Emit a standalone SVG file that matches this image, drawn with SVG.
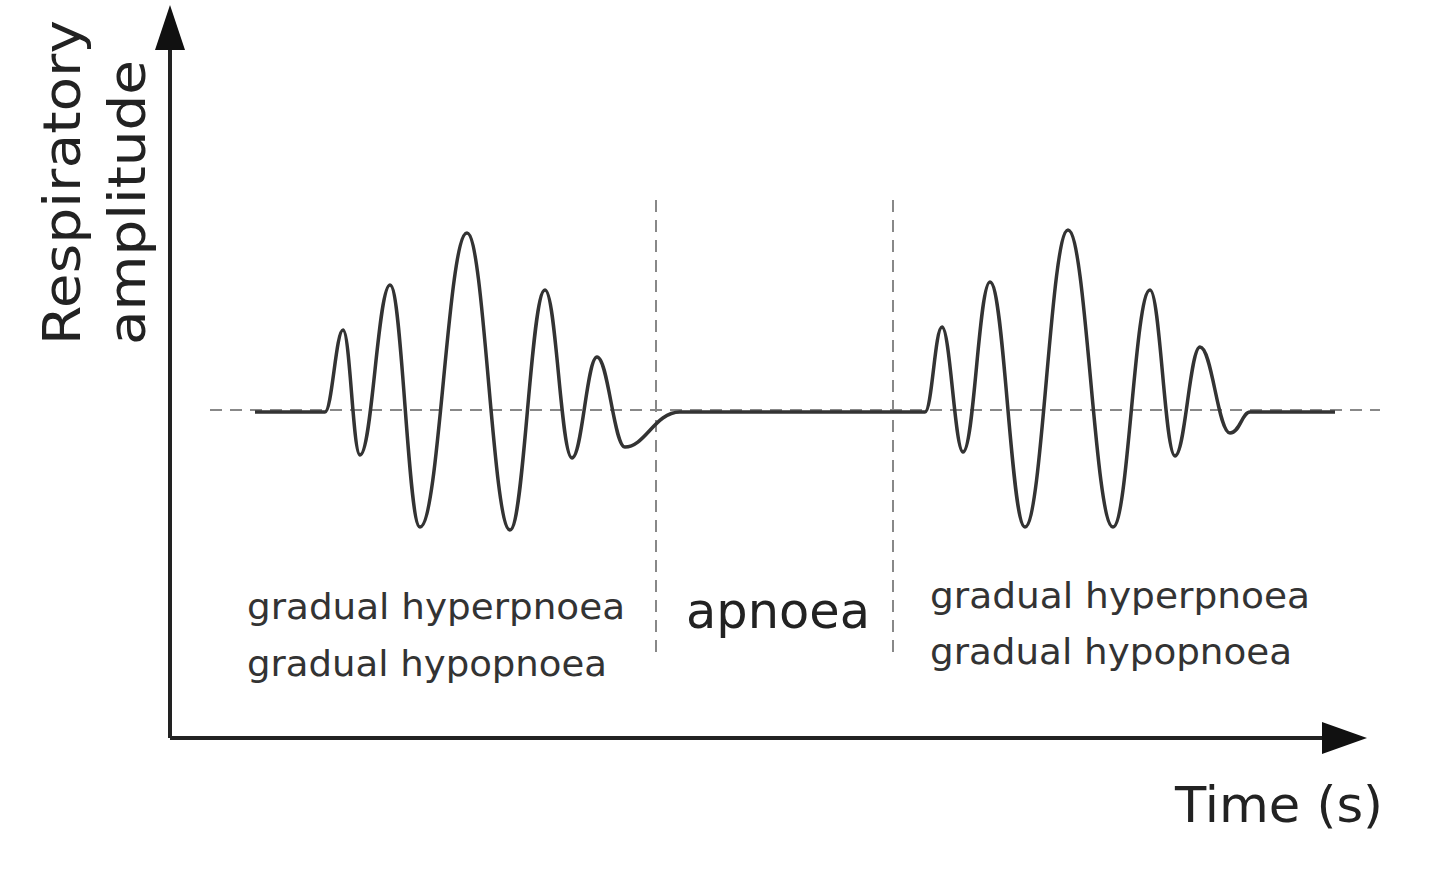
<svg xmlns="http://www.w3.org/2000/svg" width="1440" height="894" viewBox="0 0 1440 894">
<style>
.dash{stroke:#888;stroke-width:2;stroke-dasharray:12 8;fill:none}
.wave{stroke:#333;stroke-width:3.5;fill:none}
.ax{stroke:#222;stroke-width:4;fill:none}
text{font-family:"DejaVu Sans",sans-serif;fill:#333}
.s{font-size:36px}
.l{font-size:49px;fill:#222}
.y{font-size:52px;fill:#222}
</style>
<rect width="1440" height="894" fill="#fff"/>
<g id="axes">
<path class="ax" d="M170,738 L170,40 M170,738 L1330,738"/>
<polygon points="170,5 155,50 185,50" fill="#111"/>
<polygon points="1367,738 1322,722 1322,754" fill="#111"/>
</g>
<g id="guides">
<path class="dash" d="M210,410 L1380,410 M656,200 L656,655 M893,200 L893,655"/>
</g>
<g id="waves">
<path class="wave" d="M255,412 L325,412 C332,412 336,330 343,330 C350,330 353,455 360,455 C372,455 378,285 390,285 C402,285 408,527 420,527 C439,527 448,233 467,233 C484,233 493,530 510,530 C524,530 531,290 545,290 C556,290 561,458 572,458 C582,458 587,357 597,357 C608,357 614,447 625,447 C645,447 655,412 680,412 L925,412 C932,412 935,327 942,327 C950,327 955,452 963,452 C974,452 979,282 990,282 C1004,282 1011,527 1025,527 C1042,527 1051,230 1068,230 C1086,230 1095,527 1113,527 C1128,527 1135,290 1150,290 C1160,290 1165,456 1175,456 C1185,456 1190,347 1200,347 C1212,347 1218,433 1230,433 C1240,433 1242,412 1250,412 L1335,412"/>
</g>
<g id="labels">
<text class="s" x="247" y="619" textLength="378" lengthAdjust="spacingAndGlyphs">gradual hyperpnoea</text>
<text class="s" x="247" y="676" textLength="360" lengthAdjust="spacingAndGlyphs">gradual hypopnoea</text>
<text class="l" x="686" y="628" textLength="184" lengthAdjust="spacingAndGlyphs">apnoea</text>
<text class="s" x="930" y="608" textLength="380" lengthAdjust="spacingAndGlyphs">gradual hyperpnoea</text>
<text class="s" x="930" y="664" textLength="362" lengthAdjust="spacingAndGlyphs">gradual hypopnoea</text>
<text class="l" x="1175" y="822" textLength="208" lengthAdjust="spacingAndGlyphs">Time (s)</text>
<text class="y" transform="translate(80,345) rotate(-90)" textLength="325" lengthAdjust="spacingAndGlyphs">Respiratory</text>
<text class="y" transform="translate(145,345) rotate(-90)" textLength="285" lengthAdjust="spacingAndGlyphs">amplitude</text>
</g>
</svg>
